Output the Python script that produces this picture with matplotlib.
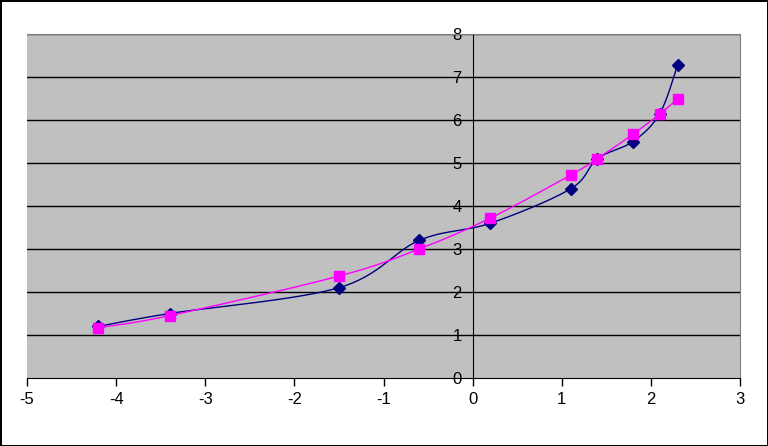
import numpy as np
import matplotlib.pyplot as plt

plt.rcParams['font.family'] = ['Liberation Sans', 'DejaVu Sans']
plt.rcParams['axes.unicode_minus'] = False

# series
x_vals = [-4.2, -3.4, -1.5, -0.6, 0.2, 1.1, 1.4, 1.8, 2.1, 2.3]
blue_y = [1.2, 1.5, 2.1, 3.2, 3.6, 4.4, 5.1, 5.5, 6.15, 7.28]
pink_y = [1.17, 1.45, 2.37, 3.0, 3.72, 4.72, 5.1, 5.67, 6.14, 6.49]
x_ticks = [-5, -4, -3, -2, -1, 0, 1, 2, 3]
y_ticks = [0, 1, 2, 3, 4, 5, 6, 7, 8]


def smooth(xs, ys, n=30):
    """Excel-like smoothed line: bezier with control points from neighbours."""
    xs = np.asarray(xs, float)
    ys = np.asarray(ys, float)
    px = np.concatenate([[xs[0]], xs, [xs[-1]]])
    py = np.concatenate([[ys[0]], ys, [ys[-1]]])
    out_x, out_y = [], []
    t = np.linspace(0, 1, n)
    for i in range(1, len(px) - 2):
        p0 = np.array([px[i], py[i]])
        p3 = np.array([px[i + 1], py[i + 1]])
        p1 = p0 + (np.array([px[i + 1], py[i + 1]]) - np.array([px[i - 1], py[i - 1]])) / 6.0
        p2 = p3 - (np.array([px[i + 2], py[i + 2]]) - np.array([px[i], py[i]])) / 6.0
        b = ((1 - t) ** 3)[:, None] * p0 + (3 * (1 - t) ** 2 * t)[:, None] * p1 \
            + (3 * (1 - t) * t ** 2)[:, None] * p2 + (t ** 3)[:, None] * p3
        out_x.extend(b[:, 0])
        out_y.extend(b[:, 1])
    return out_x, out_y


fig = plt.figure(figsize=(7.68, 4.46), dpi=100)
fig.patch.set_edgecolor('black')
fig.patch.set_linewidth(2)
ax = fig.add_axes([27 / 768, 68 / 446, 713 / 768, 344 / 446])
ax.set_facecolor('#C0C0C0')

for y in y_ticks[1:]:
    ax.axhline(y, color='black', lw=1, zorder=1)

bx, by = smooth(x_vals, blue_y)
ax.plot(bx, by, color='#000080', lw=1, zorder=2)
ax.plot(x_vals, blue_y, ls='none', marker='D', ms=6, color='#000080', zorder=3)

mx, my = smooth(x_vals, pink_y)
ax.plot(mx, my, color='#FF00FF', lw=1, zorder=4)
ax.plot(x_vals, pink_y, ls='none', marker='s', ms=7.5, color='#FF00FF', zorder=5)

ax.set_xlim(-5, 3)
ax.set_ylim(0, 8)
ax.set_xticks(x_ticks)
ax.set_yticks(y_ticks)

ax.spines['left'].set_position(('data', 0))
ax.spines['left'].set_color('black')
ax.spines['bottom'].set_color('black')
ax.spines['top'].set_color('#808080')
ax.spines['right'].set_color('#808080')
ax.spines['left'].set_zorder(1)

ax.tick_params(axis='x', direction='out', length=6, width=1, labelsize=12, pad=4)
ax.tick_params(axis='y', length=0, labelsize=12, pad=8)

fig.savefig('out.png', dpi=100, edgecolor=fig.get_edgecolor())
